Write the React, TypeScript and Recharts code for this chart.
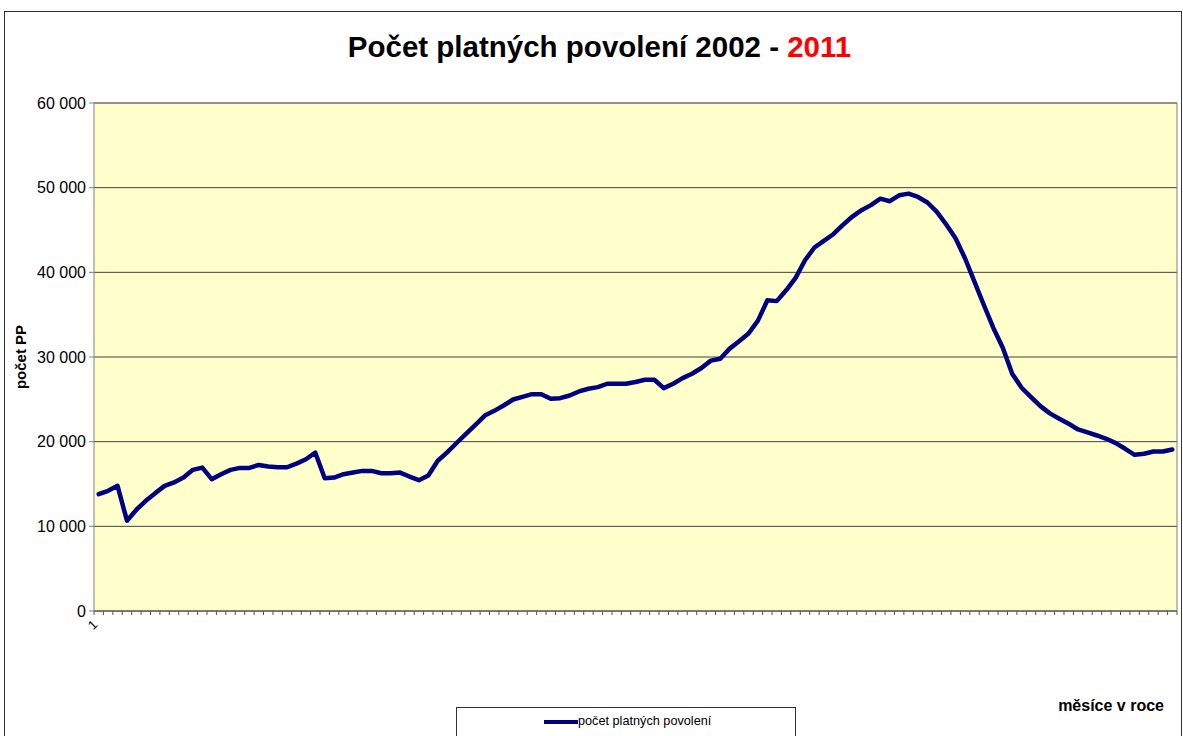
import React from 'react';
import { LineChart, Line, XAxis, YAxis, CartesianGrid, ReferenceLine } from 'recharts';

// monthly count of valid permits, Jan 2002 onwards
const permits = [
  13800, 14200, 14780, 10670, 11960, 13020, 13920, 14780, 15180, 15760, 16670, 16940,
  15570, 16160, 16670, 16900, 16900, 17250, 17060, 16980, 16980, 17410, 17920, 18700,
  15690, 15760, 16160, 16350, 16550, 16550, 16270, 16270, 16350, 15880, 15450, 16000,
  17750, 18740, 19840, 20910, 21980, 23080, 23640, 24270, 24980, 25300, 25610, 25610,
  25060, 25140, 25450, 25930, 26250, 26440, 26840, 26840, 26840, 27040, 27310, 27310,
  26320, 26840, 27510, 28020, 28700, 29570, 29800, 30990, 31860, 32770, 34300, 36700,
  36600, 37880, 39340, 41430, 42930, 43720, 44500, 45570, 46560, 47340, 47940, 48700,
  48400, 49100, 49300, 48900, 48250, 47150, 45650, 43990, 41630, 38870, 36110, 33430,
  31100, 28030, 26370, 25270, 24200, 23340, 22710, 22110, 21440, 21090, 20730, 20340,
  19830, 19160, 18450, 18570, 18840, 18840, 19080,
];
const startYear = 2002;
const periods = permits.map((_, i) => `${startYear + Math.floor(i / 12)}-${(i % 12) + 1}`);
const yTicks = [0, 10000, 20000, 30000, 40000, 50000, 60000];
const firstTickLabel = '1';
const seriesName = 'počet platných povolení';

const data = periods.map((p, i) => ({ period: p, value: permits[i] }));

const FONT = '"Liberation Sans", Arial, sans-serif';
const W = 1183;
const H = 736;
const PLOT_LEFT = 94;
const PLOT_RIGHT = 1177;
const PLOT_BOTTOM = 611;
const STEP = (PLOT_RIGHT - PLOT_LEFT) / permits.length;

const fmt = (v: number) => String(v).replace(/\B(?=(\d{3})+(?!\d))/g, ' ');

const MonthTick = (props: any) => {
  const { x, index } = props;
  const half = STEP / 2;
  const last = index === permits.length - 1;
  return (
    <g>
      <line x1={x - half} x2={x - half} y1={PLOT_BOTTOM} y2={PLOT_BOTTOM + 4} stroke="#555" />
      {last && <line x1={x + half} x2={x + half} y1={PLOT_BOTTOM} y2={PLOT_BOTTOM + 4} stroke="#555" />}
      {index === 0 && (
        <text
          x={x - 3}
          y={PLOT_BOTTOM + 17}
          fontSize={13}
          fontFamily={FONT}
          fill="#000"
          textAnchor="middle"
          transform={`rotate(-45, ${x - 3}, ${PLOT_BOTTOM + 17})`}
        >
          {firstTickLabel}
        </text>
      )}
    </g>
  );
};

export default function App() {
  return (
    <div style={{ position: 'relative', width: W, height: H, overflow: 'hidden', fontFamily: FONT }}>
      <style>{'body{margin:0;overflow:hidden;}'}</style>
      <div
        style={{
          position: 'absolute', left: 4, top: 11, width: 1176, height: 730,
          borderTop: '1px solid #333', borderLeft: '1px solid #333', borderRight: '1px solid #333',
        }}
      />
      <div
        style={{
          position: 'absolute', left: 8, top: 30, width: W, textAlign: 'center',
          fontSize: 29.5, fontWeight: 'bold', lineHeight: '34px', color: '#000',
        }}
      >
        Počet platných povolení 2002 - <span style={{ color: '#ff0000' }}>2011</span>
      </div>
      <div style={{ position: 'absolute', left: 0, top: 0 }}>
        <LineChart width={W} height={H} data={data} margin={{ top: 103, right: 5, bottom: 95, left: 0 }}>
          <CartesianGrid vertical={false} stroke="#404040" fill="#ffffcc" fillOpacity={1} />
          <XAxis
            dataKey="period"
            interval={0}
            height={30}
            padding={{ left: STEP / 2, right: STEP / 2 }}
            tickLine={false}
            axisLine={{ stroke: '#555' }}
            tick={<MonthTick />}
          />
          <YAxis
            domain={[0, 60000]}
            ticks={yTicks}
            interval={0}
            width={94}
            tickFormatter={fmt}
            tick={{ fontSize: 16, fill: '#000', fontFamily: FONT }}
            tickSize={5}
            tickMargin={3}
            tickLine={{ stroke: '#808080' }}
            axisLine={{ stroke: '#808080' }}
            label={{
              value: 'počet PP', angle: -90, position: 'insideLeft', offset: 21,
              style: { textAnchor: 'middle', fontWeight: 'bold', fontSize: 15, fill: '#000', fontFamily: FONT },
            }}
          />
          <YAxis yAxisId="r" orientation="right" width={1} domain={[0, 60000]} tick={false} tickLine={false} axisLine={{ stroke: '#808080' }} />
          <ReferenceLine y={60000} stroke="#808080" />
          <Line
            type="linear"
            dataKey="value"
            name={seriesName}
            stroke="#000080"
            strokeWidth={4.5}
            strokeLinejoin="round"
            strokeLinecap="round"
            dot={false}
            isAnimationActive={false}
          />
        </LineChart>
      </div>
      <div
        style={{
          position: 'absolute', left: 1000, width: 164, top: 697, textAlign: 'right',
          fontSize: 16, fontWeight: 'bold', color: '#000',
        }}
      >
        měsíce v roce
      </div>
      <div
        style={{
          position: 'absolute', left: 456, top: 707, width: 338, height: 40,
          border: '1px solid #333', background: '#fff',
        }}
      >
        <div style={{ position: 'absolute', left: 87, top: 12, width: 34, height: 4, background: '#000080' }} />
        <div style={{ position: 'absolute', left: 121, top: 5, fontSize: 12.7, lineHeight: '16px', color: '#000', whiteSpace: 'nowrap' }}>
          {seriesName}
        </div>
      </div>
    </div>
  );
}
